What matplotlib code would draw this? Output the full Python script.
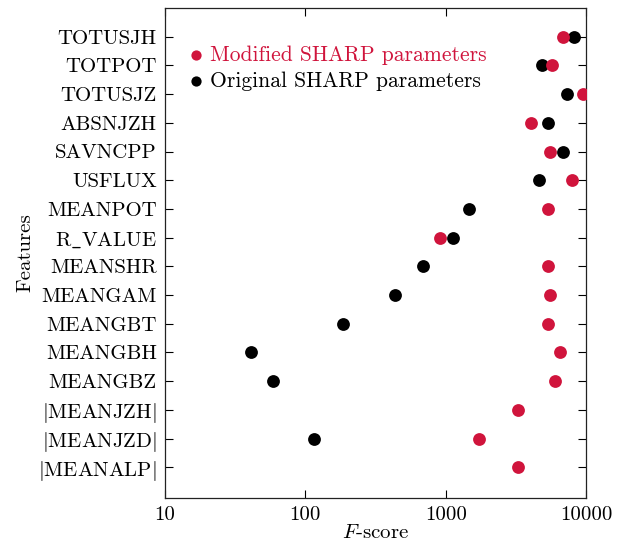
"""F-score ranking of SHARP features, modified vs original parameters."""

import matplotlib
import numpy as np

matplotlib.use("Agg")
import matplotlib.pyplot as plt
from matplotlib.ticker import FixedLocator, NullLocator

plt.rcParams["font.family"] = ["cmr10", "DejaVu Serif"]
plt.rcParams["mathtext.fontset"] = "cm"
plt.rcParams["axes.formatter.use_mathtext"] = True

FEATURES = [
    r"TOTUSJH", r"TOTPOT", r"TOTUSJZ", r"ABSNJZH", r"SAVNCPP", r"USFLUX",
    r"MEANPOT", r"$\mathrm{R\_VALUE}$", r"MEANSHR", r"MEANGAM", r"MEANGBT",
    r"MEANGBH", r"MEANGBZ", r"$|\mathrm{MEANJZH}|$", r"$|\mathrm{MEANJZD}|$",
    r"$|\mathrm{MEANALP}|$",
]
MODIFIED = [6900, 5700, 9450, 4060, 5550, 7900, 5400, 910, 5340, 5500, 5400,
            6500, 6000, 3270, 1740, 3270]
ORIGINAL = [8200, 4840, 7300, 5400, 6900, 4630, 1470, 1120, 694, 436, 185,
            41, 58.5, np.nan, 116, np.nan]

RED = "#d0143c"
BLACK = "#000000"


def main():
    fig = plt.figure(figsize=(6.26, 5.42), dpi=100)
    ax = fig.add_axes([165 / 626, 1 - 498 / 542, 421 / 626, 490 / 542])

    y = np.arange(len(FEATURES))
    ax.scatter(ORIGINAL, y, s=85, color=BLACK, zorder=3, linewidths=0,
               label="Original SHARP parameters")
    ax.scatter(MODIFIED, y, s=85, color=RED, zorder=4, linewidths=0,
               label="Modified SHARP parameters")

    ax.set_xscale("log")
    ax.set_xlim(10, 10000)
    ax.xaxis.set_major_locator(FixedLocator([10, 100, 1000, 10000]))
    ax.xaxis.set_minor_locator(NullLocator())
    ax.set_xticklabels(["10", "100", "1000", "10000"])
    ax.set_ylim(len(FEATURES) - 1 + 1.07, -1.0)
    ax.set_yticks(y)
    ax.set_yticklabels(FEATURES)

    ax.tick_params(direction="in", top=True, right=True, length=6,
                   width=0.8, labelsize=15, pad=6)
    for sp in ax.spines.values():
        sp.set_linewidth(0.9)
        sp.set_color("#222222")

    ax.set_xlabel(r"$F$-score", fontsize=15, labelpad=0)
    ax.set_ylabel("Features", fontsize=15, labelpad=3)

    handles, labels = ax.get_legend_handles_labels()
    leg = ax.legend(handles[::-1], labels[::-1], loc="upper left",
                    frameon=False, fontsize=15.5, handletextpad=0.15,
                    borderaxespad=0.3, labelspacing=0.3, handlelength=1.0,
                    markerscale=0.8, bbox_to_anchor=(0.012, 0.955))
    for txt, col in zip(leg.get_texts(), [RED, BLACK]):
        txt.set_color(col)

    fig.savefig("out.png", dpi=100)
    plt.close(fig)


if __name__ == "__main__":
    main()
